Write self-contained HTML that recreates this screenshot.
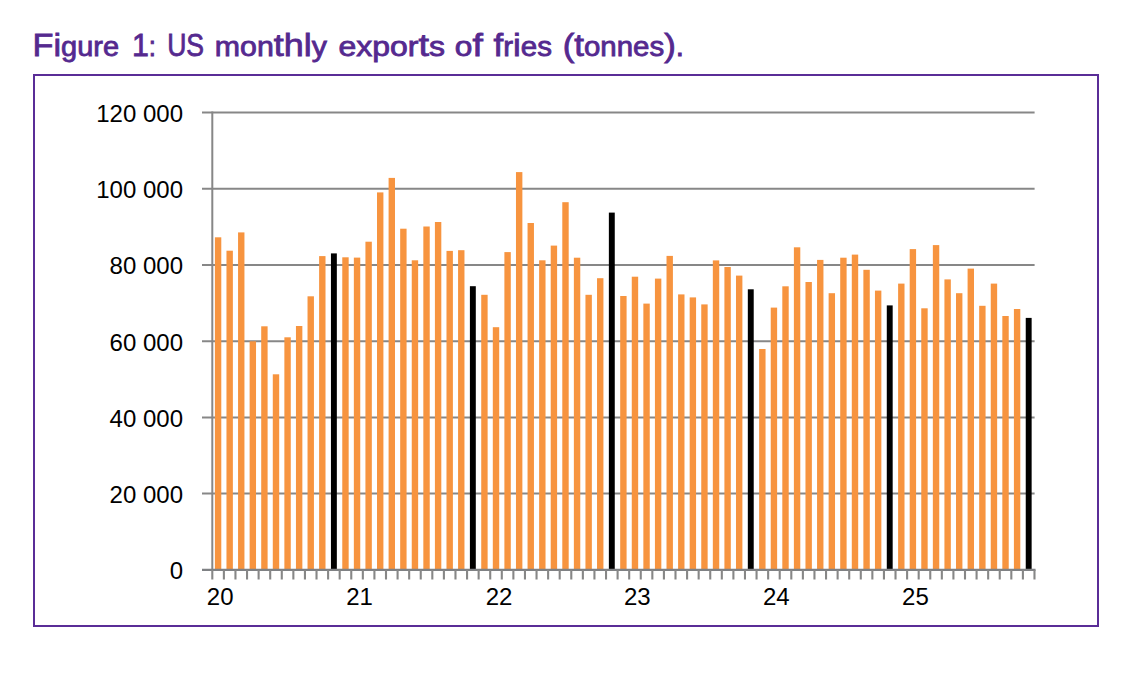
<!DOCTYPE html>
<html><head><meta charset="utf-8"><style>
html,body{margin:0;padding:0;background:#fff;}
body{width:1134px;height:675px;overflow:hidden;position:relative;}
svg{position:absolute;left:0;top:0;}
#wrap{position:absolute;left:0;top:0;width:1134px;height:675px;}
text{font-family:"Liberation Sans",sans-serif;}
.yl{font-size:24px;fill:#000;}
.xl{font-size:24px;fill:#000;}
.title{font-size:32px;font-weight:normal;fill:#55298F;stroke:#55298F;stroke-width:0.8px;}
.sm{font-size:27px;}
</style></head><body>
<div id="wrap"><svg width="1134" height="675" viewBox="0 0 1134 675">
<g>
<text x="32.50" y="55.5" class="title" textLength="86.50" lengthAdjust="spacingAndGlyphs">Fi<tspan class="sm">g</tspan><tspan class="sm">u</tspan><tspan class="sm">r</tspan><tspan class="sm">e</tspan></text><text x="132.00" y="55.5" class="title" textLength="24.00" lengthAdjust="spacingAndGlyphs">1<tspan class="sm">:</tspan></text><text x="167.20" y="55.5" class="title" textLength="36.90" lengthAdjust="spacingAndGlyphs">US</text><text x="214.80" y="55.5" class="title" textLength="112.10" lengthAdjust="spacingAndGlyphs"><tspan class="sm">m</tspan><tspan class="sm">o</tspan><tspan class="sm">n</tspan>thl<tspan class="sm">y</tspan></text><text x="338.40" y="55.5" class="title" textLength="106.50" lengthAdjust="spacingAndGlyphs"><tspan class="sm">e</tspan><tspan class="sm">x</tspan><tspan class="sm">p</tspan><tspan class="sm">o</tspan><tspan class="sm">r</tspan>t<tspan class="sm">s</tspan></text><text x="454.80" y="55.5" class="title" textLength="28.00" lengthAdjust="spacingAndGlyphs"><tspan class="sm">o</tspan>f</text><text x="493.60" y="55.5" class="title" textLength="58.40" lengthAdjust="spacingAndGlyphs">f<tspan class="sm">r</tspan>i<tspan class="sm">e</tspan><tspan class="sm">s</tspan></text><text x="562.70" y="55.5" class="title" textLength="121.30" lengthAdjust="spacingAndGlyphs">(t<tspan class="sm">o</tspan><tspan class="sm">n</tspan><tspan class="sm">n</tspan><tspan class="sm">e</tspan><tspan class="sm">s</tspan>)<tspan class="sm">.</tspan></text>
<rect x="34" y="75" width="1064" height="551" fill="none" stroke="#5A2D97" stroke-width="2"/>
<line x1="202" y1="112.5" x2="1034.6" y2="112.5" stroke="#878787" stroke-width="2"/>
<line x1="202" y1="188.7" x2="1034.6" y2="188.7" stroke="#878787" stroke-width="2"/>
<line x1="202" y1="264.9" x2="1034.6" y2="264.9" stroke="#878787" stroke-width="2"/>
<line x1="202" y1="341.2" x2="1034.6" y2="341.2" stroke="#878787" stroke-width="2"/>
<line x1="202" y1="417.4" x2="1034.6" y2="417.4" stroke="#878787" stroke-width="2"/>
<line x1="202" y1="493.6" x2="1034.6" y2="493.6" stroke="#878787" stroke-width="2"/>
<line x1="212.3" y1="111.5" x2="212.3" y2="569.8" stroke="#878787" stroke-width="2"/>
<rect x="214.89" y="237.3" width="6.4" height="332.50" fill="#F7943F"/>
<rect x="226.47" y="250.7" width="6.4" height="319.10" fill="#F7943F"/>
<rect x="238.05" y="232.4" width="6.4" height="337.40" fill="#F7943F"/>
<rect x="249.63" y="341.3" width="6.4" height="228.50" fill="#F7943F"/>
<rect x="261.21" y="326.3" width="6.4" height="243.50" fill="#F7943F"/>
<rect x="272.79" y="374.3" width="6.4" height="195.50" fill="#F7943F"/>
<rect x="284.37" y="337.3" width="6.4" height="232.50" fill="#F7943F"/>
<rect x="295.95" y="326" width="6.4" height="243.80" fill="#F7943F"/>
<rect x="307.53" y="296.3" width="6.4" height="273.50" fill="#F7943F"/>
<rect x="319.11" y="256.1" width="6.4" height="313.70" fill="#F7943F"/>
<rect x="330.94" y="253.4" width="5.9" height="316.40" fill="#000"/>
<rect x="342.27" y="257.3" width="6.4" height="312.50" fill="#F7943F"/>
<rect x="353.85" y="257.6" width="6.4" height="312.20" fill="#F7943F"/>
<rect x="365.43" y="241.7" width="6.4" height="328.10" fill="#F7943F"/>
<rect x="377.01" y="192.4" width="6.4" height="377.40" fill="#F7943F"/>
<rect x="388.59" y="177.9" width="6.4" height="391.90" fill="#F7943F"/>
<rect x="400.17" y="228.7" width="6.4" height="341.10" fill="#F7943F"/>
<rect x="411.75" y="260.3" width="6.4" height="309.50" fill="#F7943F"/>
<rect x="423.33" y="226.5" width="6.4" height="343.30" fill="#F7943F"/>
<rect x="434.91" y="222" width="6.4" height="347.80" fill="#F7943F"/>
<rect x="446.49" y="250.9" width="6.4" height="318.90" fill="#F7943F"/>
<rect x="458.07" y="250.2" width="6.4" height="319.60" fill="#F7943F"/>
<rect x="469.90" y="286.2" width="5.9" height="283.60" fill="#000"/>
<rect x="481.23" y="294.8" width="6.4" height="275.00" fill="#F7943F"/>
<rect x="492.81" y="327.2" width="6.4" height="242.60" fill="#F7943F"/>
<rect x="504.39" y="252.1" width="6.4" height="317.70" fill="#F7943F"/>
<rect x="515.97" y="172.1" width="6.4" height="397.70" fill="#F7943F"/>
<rect x="527.55" y="223" width="6.4" height="346.80" fill="#F7943F"/>
<rect x="539.13" y="260.3" width="6.4" height="309.50" fill="#F7943F"/>
<rect x="550.71" y="245.6" width="6.4" height="324.20" fill="#F7943F"/>
<rect x="562.29" y="202.2" width="6.4" height="367.60" fill="#F7943F"/>
<rect x="573.87" y="257.7" width="6.4" height="312.10" fill="#F7943F"/>
<rect x="585.45" y="294.8" width="6.4" height="275.00" fill="#F7943F"/>
<rect x="597.03" y="278.2" width="6.4" height="291.60" fill="#F7943F"/>
<rect x="608.86" y="212.6" width="5.9" height="357.20" fill="#000"/>
<rect x="620.19" y="296" width="6.4" height="273.80" fill="#F7943F"/>
<rect x="631.77" y="276.7" width="6.4" height="293.10" fill="#F7943F"/>
<rect x="643.35" y="303.6" width="6.4" height="266.20" fill="#F7943F"/>
<rect x="654.93" y="278.6" width="6.4" height="291.20" fill="#F7943F"/>
<rect x="666.51" y="255.9" width="6.4" height="313.90" fill="#F7943F"/>
<rect x="678.09" y="294.4" width="6.4" height="275.40" fill="#F7943F"/>
<rect x="689.67" y="297.4" width="6.4" height="272.40" fill="#F7943F"/>
<rect x="701.25" y="304.4" width="6.4" height="265.40" fill="#F7943F"/>
<rect x="712.83" y="260.4" width="6.4" height="309.40" fill="#F7943F"/>
<rect x="724.41" y="267" width="6.4" height="302.80" fill="#F7943F"/>
<rect x="735.99" y="275.6" width="6.4" height="294.20" fill="#F7943F"/>
<rect x="747.82" y="289.3" width="5.9" height="280.50" fill="#000"/>
<rect x="759.15" y="349" width="6.4" height="220.80" fill="#F7943F"/>
<rect x="770.73" y="307.6" width="6.4" height="262.20" fill="#F7943F"/>
<rect x="782.31" y="286.3" width="6.4" height="283.50" fill="#F7943F"/>
<rect x="793.89" y="247.3" width="6.4" height="322.50" fill="#F7943F"/>
<rect x="805.47" y="282" width="6.4" height="287.80" fill="#F7943F"/>
<rect x="817.05" y="259.9" width="6.4" height="309.90" fill="#F7943F"/>
<rect x="828.63" y="293.2" width="6.4" height="276.60" fill="#F7943F"/>
<rect x="840.21" y="257.7" width="6.4" height="312.10" fill="#F7943F"/>
<rect x="851.79" y="254.6" width="6.4" height="315.20" fill="#F7943F"/>
<rect x="863.37" y="269.8" width="6.4" height="300.00" fill="#F7943F"/>
<rect x="874.95" y="290.6" width="6.4" height="279.20" fill="#F7943F"/>
<rect x="886.78" y="305.4" width="5.9" height="264.40" fill="#000"/>
<rect x="898.11" y="283.6" width="6.4" height="286.20" fill="#F7943F"/>
<rect x="909.69" y="249.1" width="6.4" height="320.70" fill="#F7943F"/>
<rect x="921.27" y="308.3" width="6.4" height="261.50" fill="#F7943F"/>
<rect x="932.85" y="245.1" width="6.4" height="324.70" fill="#F7943F"/>
<rect x="944.43" y="279.4" width="6.4" height="290.40" fill="#F7943F"/>
<rect x="956.01" y="293.2" width="6.4" height="276.60" fill="#F7943F"/>
<rect x="967.59" y="268.6" width="6.4" height="301.20" fill="#F7943F"/>
<rect x="979.17" y="305.8" width="6.4" height="264.00" fill="#F7943F"/>
<rect x="990.75" y="283.6" width="6.4" height="286.20" fill="#F7943F"/>
<rect x="1002.33" y="316" width="6.4" height="253.80" fill="#F7943F"/>
<rect x="1013.91" y="309" width="6.4" height="260.80" fill="#F7943F"/>
<rect x="1025.74" y="317.9" width="5.9" height="251.90" fill="#000"/>
<line x1="202" y1="569.8" x2="1035.5" y2="569.8" stroke="#7F8184" stroke-width="2.2"/>
<line x1="212.30" y1="569.8" x2="212.30" y2="579.5" stroke="#878787" stroke-width="2.1"/>
<line x1="223.88" y1="569.8" x2="223.88" y2="579.5" stroke="#878787" stroke-width="2.1"/>
<line x1="235.46" y1="569.8" x2="235.46" y2="579.5" stroke="#878787" stroke-width="2.1"/>
<line x1="247.04" y1="569.8" x2="247.04" y2="579.5" stroke="#878787" stroke-width="2.1"/>
<line x1="258.62" y1="569.8" x2="258.62" y2="579.5" stroke="#878787" stroke-width="2.1"/>
<line x1="270.20" y1="569.8" x2="270.20" y2="579.5" stroke="#878787" stroke-width="2.1"/>
<line x1="281.78" y1="569.8" x2="281.78" y2="579.5" stroke="#878787" stroke-width="2.1"/>
<line x1="293.36" y1="569.8" x2="293.36" y2="579.5" stroke="#878787" stroke-width="2.1"/>
<line x1="304.94" y1="569.8" x2="304.94" y2="579.5" stroke="#878787" stroke-width="2.1"/>
<line x1="316.52" y1="569.8" x2="316.52" y2="579.5" stroke="#878787" stroke-width="2.1"/>
<line x1="328.10" y1="569.8" x2="328.10" y2="579.5" stroke="#878787" stroke-width="2.1"/>
<line x1="339.68" y1="569.8" x2="339.68" y2="579.5" stroke="#878787" stroke-width="2.1"/>
<line x1="351.26" y1="569.8" x2="351.26" y2="579.5" stroke="#878787" stroke-width="2.1"/>
<line x1="362.84" y1="569.8" x2="362.84" y2="579.5" stroke="#878787" stroke-width="2.1"/>
<line x1="374.42" y1="569.8" x2="374.42" y2="579.5" stroke="#878787" stroke-width="2.1"/>
<line x1="386.00" y1="569.8" x2="386.00" y2="579.5" stroke="#878787" stroke-width="2.1"/>
<line x1="397.58" y1="569.8" x2="397.58" y2="579.5" stroke="#878787" stroke-width="2.1"/>
<line x1="409.16" y1="569.8" x2="409.16" y2="579.5" stroke="#878787" stroke-width="2.1"/>
<line x1="420.74" y1="569.8" x2="420.74" y2="579.5" stroke="#878787" stroke-width="2.1"/>
<line x1="432.32" y1="569.8" x2="432.32" y2="579.5" stroke="#878787" stroke-width="2.1"/>
<line x1="443.90" y1="569.8" x2="443.90" y2="579.5" stroke="#878787" stroke-width="2.1"/>
<line x1="455.48" y1="569.8" x2="455.48" y2="579.5" stroke="#878787" stroke-width="2.1"/>
<line x1="467.06" y1="569.8" x2="467.06" y2="579.5" stroke="#878787" stroke-width="2.1"/>
<line x1="478.64" y1="569.8" x2="478.64" y2="579.5" stroke="#878787" stroke-width="2.1"/>
<line x1="490.22" y1="569.8" x2="490.22" y2="579.5" stroke="#878787" stroke-width="2.1"/>
<line x1="501.80" y1="569.8" x2="501.80" y2="579.5" stroke="#878787" stroke-width="2.1"/>
<line x1="513.38" y1="569.8" x2="513.38" y2="579.5" stroke="#878787" stroke-width="2.1"/>
<line x1="524.96" y1="569.8" x2="524.96" y2="579.5" stroke="#878787" stroke-width="2.1"/>
<line x1="536.54" y1="569.8" x2="536.54" y2="579.5" stroke="#878787" stroke-width="2.1"/>
<line x1="548.12" y1="569.8" x2="548.12" y2="579.5" stroke="#878787" stroke-width="2.1"/>
<line x1="559.70" y1="569.8" x2="559.70" y2="579.5" stroke="#878787" stroke-width="2.1"/>
<line x1="571.28" y1="569.8" x2="571.28" y2="579.5" stroke="#878787" stroke-width="2.1"/>
<line x1="582.86" y1="569.8" x2="582.86" y2="579.5" stroke="#878787" stroke-width="2.1"/>
<line x1="594.44" y1="569.8" x2="594.44" y2="579.5" stroke="#878787" stroke-width="2.1"/>
<line x1="606.02" y1="569.8" x2="606.02" y2="579.5" stroke="#878787" stroke-width="2.1"/>
<line x1="617.60" y1="569.8" x2="617.60" y2="579.5" stroke="#878787" stroke-width="2.1"/>
<line x1="629.18" y1="569.8" x2="629.18" y2="579.5" stroke="#878787" stroke-width="2.1"/>
<line x1="640.76" y1="569.8" x2="640.76" y2="579.5" stroke="#878787" stroke-width="2.1"/>
<line x1="652.34" y1="569.8" x2="652.34" y2="579.5" stroke="#878787" stroke-width="2.1"/>
<line x1="663.92" y1="569.8" x2="663.92" y2="579.5" stroke="#878787" stroke-width="2.1"/>
<line x1="675.50" y1="569.8" x2="675.50" y2="579.5" stroke="#878787" stroke-width="2.1"/>
<line x1="687.08" y1="569.8" x2="687.08" y2="579.5" stroke="#878787" stroke-width="2.1"/>
<line x1="698.66" y1="569.8" x2="698.66" y2="579.5" stroke="#878787" stroke-width="2.1"/>
<line x1="710.24" y1="569.8" x2="710.24" y2="579.5" stroke="#878787" stroke-width="2.1"/>
<line x1="721.82" y1="569.8" x2="721.82" y2="579.5" stroke="#878787" stroke-width="2.1"/>
<line x1="733.40" y1="569.8" x2="733.40" y2="579.5" stroke="#878787" stroke-width="2.1"/>
<line x1="744.98" y1="569.8" x2="744.98" y2="579.5" stroke="#878787" stroke-width="2.1"/>
<line x1="756.56" y1="569.8" x2="756.56" y2="579.5" stroke="#878787" stroke-width="2.1"/>
<line x1="768.14" y1="569.8" x2="768.14" y2="579.5" stroke="#878787" stroke-width="2.1"/>
<line x1="779.72" y1="569.8" x2="779.72" y2="579.5" stroke="#878787" stroke-width="2.1"/>
<line x1="791.30" y1="569.8" x2="791.30" y2="579.5" stroke="#878787" stroke-width="2.1"/>
<line x1="802.88" y1="569.8" x2="802.88" y2="579.5" stroke="#878787" stroke-width="2.1"/>
<line x1="814.46" y1="569.8" x2="814.46" y2="579.5" stroke="#878787" stroke-width="2.1"/>
<line x1="826.04" y1="569.8" x2="826.04" y2="579.5" stroke="#878787" stroke-width="2.1"/>
<line x1="837.62" y1="569.8" x2="837.62" y2="579.5" stroke="#878787" stroke-width="2.1"/>
<line x1="849.20" y1="569.8" x2="849.20" y2="579.5" stroke="#878787" stroke-width="2.1"/>
<line x1="860.78" y1="569.8" x2="860.78" y2="579.5" stroke="#878787" stroke-width="2.1"/>
<line x1="872.36" y1="569.8" x2="872.36" y2="579.5" stroke="#878787" stroke-width="2.1"/>
<line x1="883.94" y1="569.8" x2="883.94" y2="579.5" stroke="#878787" stroke-width="2.1"/>
<line x1="895.52" y1="569.8" x2="895.52" y2="579.5" stroke="#878787" stroke-width="2.1"/>
<line x1="907.10" y1="569.8" x2="907.10" y2="579.5" stroke="#878787" stroke-width="2.1"/>
<line x1="918.68" y1="569.8" x2="918.68" y2="579.5" stroke="#878787" stroke-width="2.1"/>
<line x1="930.26" y1="569.8" x2="930.26" y2="579.5" stroke="#878787" stroke-width="2.1"/>
<line x1="941.84" y1="569.8" x2="941.84" y2="579.5" stroke="#878787" stroke-width="2.1"/>
<line x1="953.42" y1="569.8" x2="953.42" y2="579.5" stroke="#878787" stroke-width="2.1"/>
<line x1="965.00" y1="569.8" x2="965.00" y2="579.5" stroke="#878787" stroke-width="2.1"/>
<line x1="976.58" y1="569.8" x2="976.58" y2="579.5" stroke="#878787" stroke-width="2.1"/>
<line x1="988.16" y1="569.8" x2="988.16" y2="579.5" stroke="#878787" stroke-width="2.1"/>
<line x1="999.74" y1="569.8" x2="999.74" y2="579.5" stroke="#878787" stroke-width="2.1"/>
<line x1="1011.32" y1="569.8" x2="1011.32" y2="579.5" stroke="#878787" stroke-width="2.1"/>
<line x1="1022.90" y1="569.8" x2="1022.90" y2="579.5" stroke="#878787" stroke-width="2.1"/>
<line x1="1034.48" y1="569.8" x2="1034.48" y2="579.5" stroke="#878787" stroke-width="2.1"/>
<text x="183" y="122.0" text-anchor="end" class="yl">120 000</text>
<text x="183" y="198.2" text-anchor="end" class="yl">100 000</text>
<text x="183" y="274.4" text-anchor="end" class="yl">80 000</text>
<text x="183" y="350.7" text-anchor="end" class="yl">60 000</text>
<text x="183" y="426.9" text-anchor="end" class="yl">40 000</text>
<text x="183" y="503.1" text-anchor="end" class="yl">20 000</text>
<text x="183" y="579.3" text-anchor="end" class="yl">0</text>
<text x="220.2" y="605" text-anchor="middle" class="xl">20</text>
<text x="359.5" y="605" text-anchor="middle" class="xl">21</text>
<text x="499" y="605" text-anchor="middle" class="xl">22</text>
<text x="637.3" y="605" text-anchor="middle" class="xl">23</text>
<text x="776.3" y="605" text-anchor="middle" class="xl">24</text>
<text x="915.4" y="605" text-anchor="middle" class="xl">25</text>
</g></svg></div>
</body></html>
